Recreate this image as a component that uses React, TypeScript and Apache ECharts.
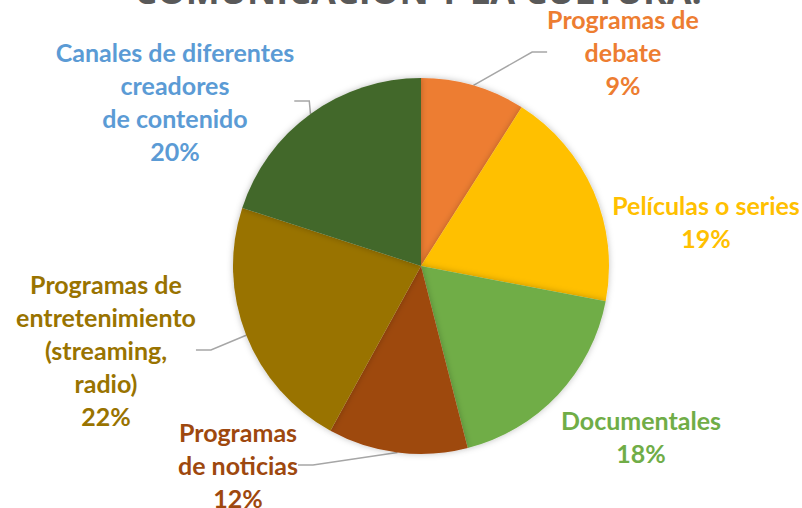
import React, { useEffect, useRef } from "react";
import * as echarts from "echarts";

const categories = [
  "Programas de\ndebate",
  "Películas o series",
  "Documentales",
  "Programas\nde noticias",
  "Programas de\nentretenimiento\n(streaming,\nradio)",
  "Canales de diferentes\ncreadores\nde contenido",
];
const values = [9, 19, 18, 12, 22, 20];
const colors = ["#ED7D31", "#FFC000", "#70AD47", "#9E480E", "#997300", "#43682B"];
const labelColors = ["#ED7D31", "#FFC000", "#70AD47", "#9E480E", "#997300", "#5B9BD5"];
const titleText = "COMUNICACIÓN Y LA CULTURA.";

// label anchor positions (centre of label block) and whether to draw a leader line
const labelPos: [number, number][] = [
  [623, 52],
  [706, 221],
  [641, 436],
  [238, 465],
  [106, 350],
  [175, 101],
];
const showLine = [true, false, false, true, true, true];

export default function App() {
  const ref = useRef<HTMLDivElement>(null);
  useEffect(() => {
    if (!ref.current) return;
    const chart = echarts.init(ref.current, undefined, { renderer: "svg" });
    chart.setOption({
      animation: false,
      backgroundColor: "#ffffff",
      graphic: [
        {
          type: "text",
          x: 418,
          y: 8,
          style: {
            text: titleText,
            fill: "#595959",
            font: "bold 36px 'Open Sans', sans-serif",
            align: "center",
            verticalAlign: "bottom",
          },
        },
      ],
      series: [
        {
          type: "pie",
          center: [421, 266],
          radius: 188,
          startAngle: 90,
          clockwise: true,
          itemStyle: {
            shadowBlur: 6,
            shadowColor: "rgba(0,0,0,0.25)",
          },
          label: {
            show: true,
            fontFamily: "Lato, 'Open Sans', sans-serif",
            fontWeight: "bold",
            fontSize: 25,
            lineHeight: 33,
            align: "center",
            overflow: "none",
            formatter: (p: any) => `${p.name}\n${p.value}%`,
          },
          labelLine: {
            show: true,
            length: 20,
            length2: 15,
            lineStyle: { color: "#a6a6a6", width: 1.5 },
          },
          labelLayout: (params: any) => {
            const i = params.dataIndex;
            const [x, y] = labelPos[i];
            return {
              x,
              y,
              align: "center",
              verticalAlign: "middle",
            };
          },
          data: categories.map((name, i) => ({
            name,
            value: values[i],
            itemStyle: { color: colors[i] },
            label: { color: labelColors[i] },
            labelLine: { show: showLine[i] },
          })),
        },
      ],
    });
    return () => chart.dispose();
  }, []);
  return (
    <div
      ref={ref}
      style={{ position: "fixed", left: 0, top: 0, width: 802, height: 508 }}
    />
  );
}
